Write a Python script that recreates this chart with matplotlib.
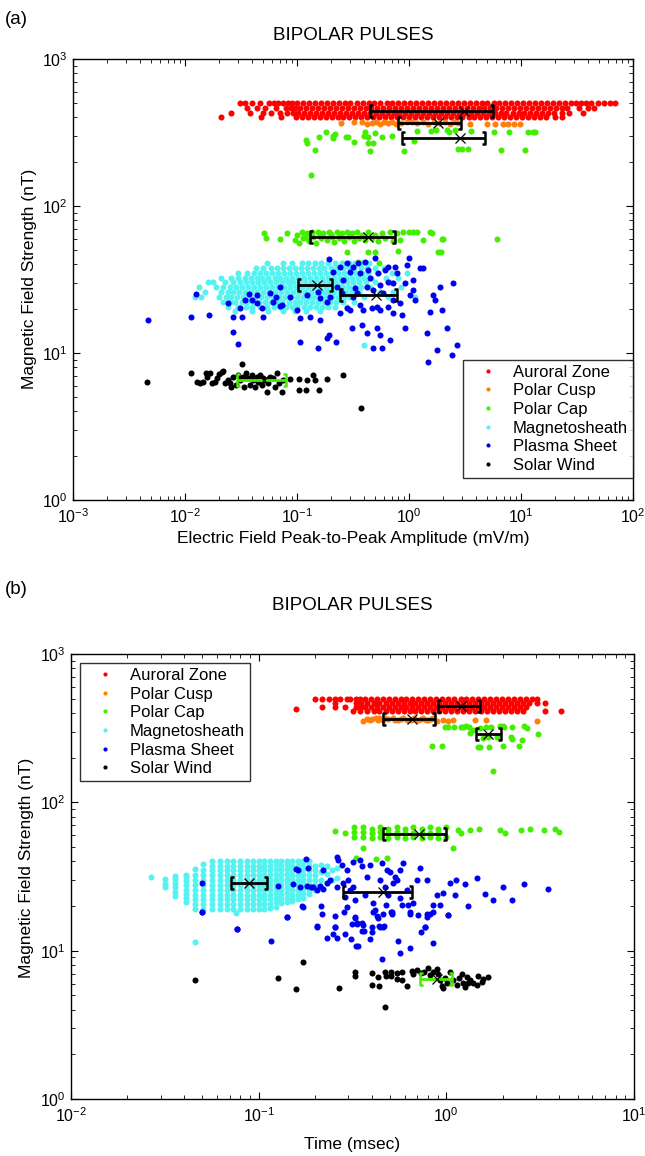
import matplotlib
matplotlib.use("Agg")
import matplotlib.pyplot as plt
from matplotlib.lines import Line2D
from matplotlib.path import Path

plt.rcParams['font.family'] = ['Liberation Sans', 'DejaVu Sans']
plt.rcParams['mathtext.fontset'] = 'custom'
plt.rcParams['mathtext.rm'] = 'Liberation Sans'
plt.rcParams['mathtext.it'] = 'Liberation Sans:italic'
plt.rcParams['mathtext.bf'] = 'Liberation Sans:bold'

groups = ['Auroral Zone', 'Polar Cusp', 'Polar Cap', 'Magnetosheath', 'Plasma Sheet', 'Solar Wind']
colors = ['#ff0000', '#ff7f0a', '#44ee00', '#55f2f2', '#0000f0', '#000000']

# ---------------- panel (a): E amplitude (mV/m) vs B (nT) ----------------
# dense auroral band, read as rows (B, list of E)
auroral_a = [
    (500, [0.031, 0.034, 0.040, 0.047, 0.056, 0.062, 0.068, 0.075, 0.083, 0.091,
           0.10, 0.113, 0.128, 0.145, 0.163, 0.185, 0.209, 0.236, 0.267, 0.30, 0.34, 0.385,
           0.435, 0.49, 0.555, 0.63, 0.71, 0.80, 0.905, 1.02, 1.16, 1.31, 1.48, 1.67, 1.89,
           2.13, 2.41, 2.72, 3.08, 3.48, 3.93, 4.44, 5.0, 5.7, 6.4, 7.2, 8.2, 9.3, 10.5,
           11.8, 13.4, 15.1, 17.1, 19.3, 21.8, 24.6, 28, 31, 34, 38, 42, 49, 55, 62, 69]),
    (465, [0.036, 0.044, 0.052, 0.065, 0.079, 0.088,
           0.095, 0.107, 0.121, 0.137, 0.154, 0.174, 0.197, 0.222, 0.251, 0.284, 0.32, 0.362,
           0.409, 0.462, 0.522, 0.59, 0.667, 0.754, 0.852, 0.963, 1.09, 1.23, 1.39, 1.57, 1.78,
           2.01, 2.27, 2.56, 2.9, 3.27, 3.7, 4.18, 4.72, 5.34, 6.03, 6.8, 7.7, 8.7, 9.8, 11.1,
           12.6, 14.2, 16.0, 18.1, 20.5, 23.2, 26, 33, 40, 45]),
    (432, [0.026, 0.038, 0.050, 0.058, 0.070, 0.082,
           0.092, 0.103, 0.116, 0.131, 0.148, 0.168, 0.19, 0.214, 0.242, 0.274, 0.309, 0.349,
           0.395, 0.446, 0.504, 0.57, 0.644, 0.728, 0.822, 0.929, 1.05, 1.19, 1.34, 1.52, 1.71,
           1.94, 2.19, 2.47, 2.8, 3.16, 3.57, 4.03, 4.56, 5.15, 5.82, 6.58, 7.4, 8.4, 9.5,
           10.7, 12.1, 13.7, 15.5, 17.5, 19.8, 23, 27, 36]),
    (405, [0.021, 0.048, 0.072,
           0.098, 0.111, 0.125, 0.141, 0.16, 0.18, 0.204, 0.23, 0.26, 0.294, 0.332, 0.376,
           0.424, 0.48, 0.542, 0.612, 0.692, 0.782, 0.884, 1.0, 1.13, 1.28, 1.44, 1.63, 1.84,
           2.08, 2.35, 2.66, 3.0, 3.4, 3.84, 4.34, 4.9, 5.54, 6.26, 7.1, 8.0, 9.0, 10.2, 11.5,
           13.0, 14.7, 16.6, 20, 23]),
]

cusp_a = [(0.249, 366), (0.326, 370), (0.38, 375), (0.426, 362), (0.47, 366), (0.51, 370),
          (0.55, 362), (0.60, 370), (0.65, 366), (0.70, 375), (0.76, 362), (0.85, 366),
          (0.95, 370), (1.06, 375), (1.19, 366), (1.33, 370), (1.49, 362), (1.67, 375),
          (1.87, 366), (2.09, 370), (2.34, 362), (2.53, 375), (2.73, 366), (3.5, 362),
          (5.0, 362), (5.9, 362), (6.9, 362), (7.7, 362), (8.7, 362), (9.8, 362)]

cap_a = [(0.121, 281), (0.123, 270), (0.146, 240), (0.158, 293), (0.181, 317), (0.211, 299),
         (0.218, 309), (0.211, 288), (0.274, 293), (0.286, 293), (0.321, 271), (0.401, 317),
         (0.397, 299), (0.433, 293), (0.433, 270), (0.478, 267), (0.453, 238), (0.497, 316),
         (0.569, 296), (0.70, 299), (0.90, 238), (1.11, 275), (1.19, 325), (1.56, 325),
         (1.75, 328), (2.2, 328), (2.28, 320), (2.56, 328), (2.76, 243), (2.98, 243),
         (3.35, 243), (3.56, 325), (5.7, 320), (6.66, 240), (7.87, 320), (10.9, 240),
         (11.5, 320), (12.7, 320), (13.4, 320), (0.132, 163),
         (0.0507, 65.1), (0.0528, 60.2), (0.0705, 59.3), (0.081, 65.1), (0.096, 58.7),
         (0.101, 63.4), (0.105, 55.7), (0.110, 66.8), (0.114, 60.2), (0.118, 62.0),
         (0.122, 65.1), (0.125, 60.0), (0.129, 58.1), (0.135, 66.8), (0.140, 61.8),
         (0.148, 56.4), (0.155, 66.8), (0.16, 63.0), (0.163, 60.2), (0.172, 65.1),
         (0.184, 58.7), (0.194, 66.8), (0.20, 64.0), (0.204, 61.8), (0.214, 57.2),
         (0.226, 66.8), (0.239, 60.2), (0.24, 62.5), (0.251, 65.1), (0.263, 58.1),
         (0.278, 66.8), (0.293, 61.8), (0.30, 63.5), (0.308, 65.1), (0.323, 58.1),
         (0.341, 66.8), (0.360, 60.2), (0.378, 63.4), (0.405, 58.7), (0.434, 66.8),
         (0.464, 60.2), (0.497, 63.4), (0.533, 58.1), (0.57, 65.1), (0.61, 60.2),
         (0.68, 66.8), (0.725, 58.1), (0.776, 65.1), (0.83, 58.7), (0.89, 66.8),
         (0.99, 66.8), (1.09, 66.8), (1.17, 66.8), (1.34, 58.7), (1.54, 66.8),
         (1.62, 65.8), (1.96, 59.3), (2.03, 59.3), (6.07, 59.3),
         (0.278, 48.9), (0.434, 48.9), (0.497, 48.9), (0.79, 49.7), (0.348, 41.8),
         (0.544, 41.2), (1.80, 48.9), (1.93, 48.9)]

# magnetosheath cloud, rows (B, list of E)
sheath_a = [
    (41.0, [0.054, 0.075, 0.09, 0.11, 0.125, 0.145, 0.165, 0.19, 0.22, 0.25, 0.29, 0.33, 0.38, 0.44]),
    (38.0, [0.043, 0.05, 0.058, 0.066, 0.075, 0.085, 0.096, 0.108, 0.122, 0.138, 0.156, 0.176,
            0.2, 0.226, 0.255, 0.29, 0.325, 0.37, 0.42, 0.5, 0.6]),
    (35.2, [0.03, 0.036, 0.041, 0.047, 0.053, 0.06, 0.068, 0.077, 0.087, 0.098, 0.111, 0.125,
            0.142, 0.16, 0.181, 0.205, 0.231, 0.261, 0.295, 0.334, 0.377, 0.43, 0.52, 0.7, 0.95]),
    (32.6, [0.021, 0.026, 0.03, 0.034, 0.0385, 0.0435, 0.049, 0.0555, 0.063, 0.071, 0.08, 0.091,
            0.103, 0.116, 0.131, 0.148, 0.167, 0.189, 0.214, 0.242, 0.273, 0.309, 0.35, 0.395,
            0.46, 0.62, 0.8]),
    (30.2, [0.016, 0.0179, 0.0228, 0.027, 0.031, 0.035, 0.0395, 0.0445, 0.0505, 0.057, 0.0645,
            0.073, 0.0825, 0.093, 0.105, 0.119, 0.134, 0.152, 0.172, 0.194, 0.219, 0.248, 0.28,
            0.316, 0.357, 0.41, 0.5, 0.68]),
    (28.0, [0.0134, 0.019, 0.022, 0.025, 0.0285, 0.032, 0.0365, 0.041, 0.047, 0.053, 0.06, 0.068,
            0.0765, 0.0865, 0.098, 0.11, 0.125, 0.141, 0.16, 0.18, 0.204, 0.23, 0.26, 0.294,
            0.33, 0.375, 0.45, 0.85]),
    (26.0, [0.015, 0.021, 0.024, 0.027, 0.0305, 0.0345, 0.039, 0.044, 0.05, 0.056, 0.064, 0.072,
            0.081, 0.092, 0.104, 0.117, 0.132, 0.15, 0.169, 0.191, 0.216, 0.244, 0.276, 0.31,
            0.36, 0.55, 0.725]),
    (24.1, [0.0123, 0.014, 0.02, 0.023, 0.026, 0.029, 0.033, 0.037, 0.042, 0.0475, 0.054, 0.061,
            0.069, 0.078, 0.088, 0.099, 0.112, 0.127, 0.143, 0.162, 0.183, 0.207, 0.234, 0.265,
            0.3, 0.4, 0.65, 1.13]),
    (22.3, [0.022, 0.025, 0.028, 0.032, 0.036, 0.0405, 0.046, 0.052, 0.058, 0.066, 0.074, 0.084,
            0.095, 0.107, 0.121, 0.137, 0.155, 0.175, 0.198, 0.224, 0.26, 0.32]),
    (20.6, [0.024, 0.03, 0.035, 0.04, 0.047, 0.054, 0.062, 0.07, 0.079, 0.09, 0.1, 0.115, 0.13,
            0.147, 0.166, 0.19, 0.22, 0.28]),
    (19.2, [0.028, 0.04, 0.055, 0.075, 0.095, 0.12, 0.16]),
    (11.3, [0.40]),
]

plasma_a = [(0.00471, 16.8), (0.0113, 17.7), (0.0164, 18.1), (0.0125, 25.2), (0.027, 14.0),
            (0.030, 11.6), (0.0244, 21.8), (0.027, 17.7), (0.032, 17.7), (0.0375, 25.2),
            (0.0394, 22.9), (0.0436, 24.8), (0.050, 17.5), (0.0615, 22.4), (0.065, 24.2),
            (0.0705, 20.9), (0.0866, 24.2), (0.106, 17.2), (0.106, 11.9), (0.131, 17.7),
            (0.155, 10.8), (0.16, 16.8), (0.184, 12.6), (0.194, 43.4), (0.194, 13.3),
            (0.223, 11.9), (0.242, 38.6), (0.259, 31.4), (0.278, 41.2), (0.308, 14.7),
            (0.318, 38.6), (0.33, 27.5), (0.366, 21.2), (0.378, 15.5), (0.419, 13.6),
            (0.434, 36.7), (0.481, 10.8), (0.514, 14.7), (0.551, 13.3), (0.57, 10.8),
            (0.514, 20.7), (0.59, 25.5), (0.653, 30.6), (0.653, 20.7), (0.676, 12.3),
            (0.725, 22.9), (0.75, 38.6), (0.83, 21.8), (0.86, 18.1), (0.92, 14.7),
            (0.95, 39.7), (0.99, 44.1), (1.09, 26.8), (1.13, 22.9), (1.25, 37.7),
            (1.34, 37.7), (1.44, 13.6), (1.49, 8.74), (1.54, 19.1), (1.65, 24.8),
            (1.71, 22.9), (1.77, 10.5), (1.89, 28.3), (1.96, 19.6), (2.17, 14.7),
            (2.40, 9.7), (2.49, 29.8), (2.67, 11.3),
            (0.318, 24.2), (0.391, 19.6), (0.297, 19.6), (0.278, 20.1), (0.464, 20.1),
            (0.419, 28.3), (0.226, 28.3), (0.251, 25.5), (0.341, 25.5), (0.481, 26.8),
            (0.551, 29.0), (0.725, 29.8), (0.211, 35.8), (0.297, 35.8), (0.366, 34.8),
            (0.449, 32.2), (0.532, 34.8), (0.61, 36.7), (0.653, 38.6), (0.353, 40.7),
            (0.405, 41.8), (0.497, 44.1), (0.242, 18.6), (0.16, 23.5), (0.155, 26.1),
            (0.122, 24.8), (0.101, 19.6), (0.073, 21.2), (0.0705, 28.3), (0.0574, 25.5),
            (0.0484, 20.1), (0.0436, 21.8), (0.0343, 22.9), (0.031, 20.1), (0.184, 22.4),
            (0.197, 24.2), (1.02, 24.8), (1.09, 31.4), (0.92, 29.8), (0.776, 34.8),
            (0.551, 19.6), (0.725, 18.6)]

solar_a = [(0.00455, 6.32), (0.0113, 7.27), (0.0127, 6.32), (0.0136, 6.28), (0.0146, 6.32),
           (0.0154, 7.27), (0.0156, 6.9), (0.0167, 7.27), (0.0173, 6.22), (0.0185, 6.38),
           (0.0192, 6.73), (0.0203, 7.2), (0.0213, 7.46), (0.022, 7.58), (0.0228, 6.22),
           (0.0244, 6.55), (0.0252, 6.28), (0.0256, 5.9), (0.027, 6.9), (0.0285, 6.06),
           (0.030, 7.09), (0.031, 6.55), (0.032, 8.41), (0.0327, 6.9), (0.0336, 5.9),
           (0.0351, 7.27), (0.0368, 6.73), (0.038, 6.06), (0.0394, 7.09), (0.0408, 6.55),
           (0.0422, 5.9), (0.0436, 6.9), (0.0452, 6.38), (0.0468, 7.09), (0.0484, 6.06),
           (0.050, 6.73), (0.0518, 6.55), (0.0536, 5.45), (0.0555, 6.22), (0.0574, 6.9),
           (0.0615, 6.73), (0.0637, 5.9), (0.0658, 7.27), (0.0695, 6.22), (0.073, 5.45),
           (0.0755, 6.55), (0.0866, 6.62), (0.105, 6.62), (0.105, 5.6), (0.120, 5.6),
           (0.122, 6.55), (0.14, 7.09), (0.145, 6.55), (0.158, 5.6), (0.184, 6.62),
           (0.259, 7.09), (0.372, 4.2)]

# mean and error bar (mean, B, low, high) per population
stats_a = [('Auroral Zone', 3.1, 443, 0.45, 5.6),
           ('Polar Cusp', 1.82, 367, 0.80, 2.9),
           ('Polar Cap', 2.83, 289, 0.86, 4.8),
           ('Polar Cap', 0.43, 61.2, 0.13, 0.75),
           ('Magnetosheath', 0.15, 29.0, 0.103, 0.204),
           ('Plasma Sheet', 0.51, 24.8, 0.242, 0.787),
           ('Solar Wind', 0.051, 6.55, 0.029, 0.080)]

# ---------------- panel (b): duration (msec) vs B (nT) ----------------
auroral_b = [
    (497, [0.20, 0.217, 0.237, 0.255, 0.271, 0.294, 0.306, 0.33, 0.347, 0.368, 0.395, 0.425,
           0.457, 0.492, 0.53, 0.57, 0.613, 0.66, 0.71, 0.764, 0.822, 0.885, 0.952, 1.02, 1.1,
           1.19, 1.28, 1.37, 1.48, 1.59, 1.71, 1.84, 1.98, 2.13, 2.29, 2.47, 2.65, 2.85, 3.03]),
    (466, [0.255, 0.33, 0.35, 0.38, 0.41, 0.44, 0.475, 0.511, 0.55, 0.592, 0.637, 0.685, 0.737,
           0.793, 0.853, 0.918, 0.988, 1.06, 1.14, 1.23, 1.32, 1.42, 1.53, 1.65, 1.77, 1.91,
           2.05, 2.21, 2.38, 2.56, 2.75, 3.03, 3.35]),
    (436, [0.217, 0.255, 0.29, 0.33, 0.35, 0.37, 0.395, 0.425, 0.457, 0.492, 0.53, 0.57, 0.613,
           0.66, 0.71, 0.764, 0.822, 0.885, 0.952, 1.02, 1.1, 1.19, 1.28, 1.37, 1.48, 1.59,
           1.71, 1.84, 1.98, 2.13, 2.29, 2.47, 2.65]),
    (425, [0.158]),
    (410, [0.318, 0.345, 0.38, 0.41, 0.44, 0.475, 0.511, 0.55, 0.592, 0.637, 0.685, 0.737,
           0.793, 0.853, 0.918, 0.988, 1.06, 1.14, 1.23, 1.32, 1.42, 1.53, 1.65, 1.77, 1.91,
           2.05, 2.21, 2.38, 2.56, 3.35, 4.1]),
]

cusp_b = [(0.361, 352), (0.38, 366), (0.39, 358), (0.40, 366), (0.42, 370), (0.43, 360),
          (0.44, 368), (0.46, 360), (0.47, 370), (0.49, 366), (0.52, 370), (0.53, 358),
          (0.55, 360), (0.57, 366), (0.59, 368), (0.62, 360), (0.65, 358), (0.67, 370),
          (0.71, 360), (0.73, 366), (0.75, 368), (0.78, 358), (0.80, 360), (0.83, 362),
          (0.85, 368), (0.89, 355), (0.96, 360), (1.02, 355), (1.08, 360), (1.42, 360),
          (1.62, 360), (3.03, 355)]

cap_b = [(0.983, 321), (1.02, 321), (1.10, 321), (1.19, 321), (1.23, 321), (1.28, 327),
         (1.32, 321), (1.38, 308), (1.34, 292), (1.51, 316), (1.63, 321), (1.72, 321),
         (1.57, 271), (1.67, 277), (1.87, 277), (1.93, 327), (2.01, 327), (2.03, 321),
         (2.23, 321), (2.59, 327), (2.70, 316), (2.20, 275), (2.23, 267), (2.52, 264),
         (3.09, 290), (2.45, 240), (2.01, 240), (1.69, 237), (1.51, 235), (1.48, 237),
         (0.835, 240), (0.944, 240), (1.78, 163),
         (0.255, 63.9), (0.288, 61.7), (0.322, 68.4), (0.322, 63.3), (0.322, 58.6),
         (0.361, 68.4), (0.361, 63.3), (0.361, 58.6), (0.361, 48.9), (0.40, 66.6),
         (0.40, 61.7), (0.40, 57.1), (0.443, 68.4), (0.443, 63.3), (0.443, 58.0),
         (0.49, 66.6), (0.49, 61.7), (0.49, 57.1), (0.543, 68.4), (0.543, 63.3),
         (0.543, 58.6), (0.602, 66.6), (0.602, 61.7), (0.602, 57.1), (0.667, 68.4),
         (0.667, 62.3), (0.667, 58.0), (0.738, 66.6), (0.738, 61.7), (0.738, 57.1),
         (0.818, 68.4), (0.818, 62.3), (0.818, 58.0), (0.906, 66.6), (0.906, 61.7),
         (0.906, 57.1), (1.0, 68.4), (1.0, 58.0), (1.09, 48.9), (0.33, 41.9), (0.42, 41.2),
         (0.48, 41.9), (1.15, 65), (1.2, 62), (1.34, 65), (1.5, 66), (1.93, 65), (2.05, 62),
         (2.5, 65), (2.8, 66), (3.3, 65), (3.8, 66), (4.0, 63)]

# magnetosheath durations come in sampled steps: columns (T, list of B)
sheath_b = [
    (0.0266, [31.5]),
    (0.0317, [26.7, 28.3, 30.2]),
    (0.0358, [23.5, 25.0, 26.8, 28.6, 30.4, 31.9]),
    (0.041, [21.2, 22.6, 24.2, 25.8, 27.6, 29.4, 31.4, 32.3]),
    (0.0458, [11.5, 19.1, 20.6, 22.2, 23.9, 25.8, 27.8, 30.0, 32.3, 35.4]),
    (0.0503, [19.1, 20.6, 22.2, 23.9, 25.8, 27.8, 30.0, 32.3, 34.8, 38.3]),
    (0.0561, [19.1, 20.6, 22.2, 23.9, 25.8, 27.8, 30.0, 32.3, 34.8, 37.5, 40.3]),
    (0.0622, [19.1, 20.6, 22.2, 23.9, 25.8, 27.8, 30.0, 32.3, 34.8, 37.5, 40.3]),
    (0.0675, [19.1, 20.6, 22.2, 23.9, 25.8, 27.8, 30.0, 32.3, 34.8, 37.5, 40.3]),
    (0.073, [19.1, 20.6, 22.2, 23.9, 25.8, 27.8, 30.0, 32.3, 34.8, 37.5, 40.3]),
    (0.076, [17.9]),
    (0.0795, [19.1, 20.6, 22.2, 23.9, 25.8, 27.8, 30.0, 32.3, 34.8, 37.5, 40.3]),
    (0.0863, [19.1, 20.6, 22.2, 23.9, 25.8, 27.8, 30.0, 32.3, 34.8, 37.5, 40.3]),
    (0.093, [19.1, 20.6, 22.2, 23.9, 25.8, 27.8, 30.0, 32.3, 34.8, 37.5, 40.3]),
    (0.100, [19.1, 20.6, 22.2, 23.9, 25.8, 27.8, 30.0, 32.3, 34.8, 37.5, 40.3]),
    (0.107, [19.1, 20.6, 22.2, 23.9, 25.8, 27.8, 30.0, 32.3, 34.8, 37.5, 40.3]),
    (0.115, [19.5, 20.6, 22.2, 23.9, 25.8, 27.8, 30.0, 32.3, 34.8, 37.5, 40.3]),
    (0.123, [19.8, 21.2, 22.8, 24.5, 26.4, 28.4, 30.6, 33.0, 35.5, 38.2, 40.3]),
    (0.132, [21.0, 22.2, 23.9, 25.8, 27.8, 30.0, 32.3, 34.8, 37.5, 40.3]),
    (0.141, [21.2, 22.8, 24.5, 26.4, 28.4, 30.6, 33.0, 35.5, 38.2, 40.5]),
    (0.151, [21.5, 22.2, 23.9, 25.8, 27.8, 30.0, 32.3, 34.8, 37.5, 40.3]),
    (0.162, [22.2, 23.9, 25.8, 27.8, 30.0, 32.3, 34.8, 37.5, 40.3]),
    (0.173, [22.8, 24.5, 26.4, 28.4, 30.6, 33.0, 35.5, 38.2, 40.0]),
    (0.185, [24.0, 25.8, 27.8, 30.0, 32.3, 34.8, 37.5, 40.0]),
    (0.200, [25.8, 27.8, 30.0, 32.3, 34.8, 37.5]),
    (0.215, [27.0, 30.0, 34.0, 38.0]),
    (0.230, [28.5, 33.0, 37.0]),
    (0.245, [30.0, 35.0]),
    (0.260, [31.0, 36.0]),
]

plasma_b = [(0.0497, 28.4), (0.0497, 18.3), (0.0764, 13.9), (0.127, 27.3), (0.141, 16.9),
            (0.153, 28.1), (0.159, 35.3), (0.163, 35.0), (0.173, 19.8), (0.179, 41.7),
            (0.184, 35.9), (0.191, 27.0), (0.204, 25.6), (0.204, 14.5), (0.221, 35.0),
            (0.23, 28.4), (0.24, 29.9), (0.255, 14.5), (0.26, 43.0), (0.265, 40.8),
            (0.277, 37.8), (0.288, 23.1), (0.294, 35.0), (0.30, 29.9), (0.307, 25.6),
            (0.319, 39.8), (0.326, 21.9), (0.326, 16.9), (0.333, 15.1), (0.347, 40.8),
            (0.354, 37.2), (0.354, 15.3), (0.368, 23.7), (0.376, 31.5), (0.392, 37.8),
            (0.40, 14.5), (0.408, 20.8), (0.417, 18.8), (0.434, 16.5), (0.443, 29.9),
            (0.443, 14.5), (0.452, 38.8), (0.461, 14.5), (0.481, 35.0), (0.491, 23.7),
            (0.511, 18.3), (0.521, 28.4), (0.543, 29.9), (0.566, 22.5), (0.566, 35.0),
            (0.578, 20.3), (0.59, 38.8), (0.614, 25.6), (0.627, 20.3), (0.64, 18.3),
            (0.667, 20.8), (0.695, 29.9), (0.709, 17.4), (0.723, 35.9), (0.769, 14.5),
            (0.785, 29.9), (0.785, 16.9), (0.818, 17.8), (0.852, 20.3), (0.888, 23.7),
            (0.924, 20.3), (0.963, 24.3), (1.02, 17.4), (1.04, 28.4), (1.11, 23.7),
            (1.13, 29.9), (0.166, 27.0), (0.18, 27.3), (0.195, 26.7), (0.212, 27.3),
            (0.221, 26.2), (0.26, 27.0), (0.282, 28.4), (0.319, 27.0), (0.50, 34.0),
            (0.532, 31.5), (0.471, 27.0),
            (0.0497, 18.1), (0.0763, 13.9), (0.117, 11.6), (0.141, 16.9), (0.171, 20.0),
            (0.204, 14.6), (0.214, 20.0), (0.218, 17.8), (0.23, 12.2), (0.25, 12.9),
            (0.255, 17.1), (0.255, 14.4), (0.26, 12.2), (0.286, 18.3), (0.288, 12.9),
            (0.294, 19.8), (0.313, 15.1), (0.31, 11.9), (0.326, 16.5), (0.329, 10.7),
            (0.337, 10.7), (0.336, 15.4), (0.361, 14.9), (0.355, 13.6), (0.365, 13.6),
            (0.392, 12.0), (0.40, 13.3), (0.405, 18.3), (0.425, 17.1), (0.436, 14.6),
            (0.454, 8.73), (0.461, 17.8), (0.467, 14.6), (0.477, 20.3), (0.505, 18.3),
            (0.511, 17.6), (0.55, 11.6), (0.566, 9.7), (0.64, 10.5), (0.64, 17.6),
            (0.73, 13.4), (0.773, 14.4), (0.792, 17.6), (0.846, 11.3), (0.852, 18.3),
            (1.02, 17.4), (1.25, 28), (1.3, 20), (1.45, 31), (1.6, 24), (1.78, 21.9),
            (2.0, 27), (2.23, 21.9), (2.6, 28), (3.5, 26)]

solar_b = [(0.0458, 6.34), (0.127, 6.5), (0.158, 5.48), (0.1715, 8.42), (0.268, 5.62),
           (0.326, 7.21), (0.326, 6.74), (0.40, 7.1), (0.40, 5.86), (0.434, 6.6),
           (0.436, 5.77), (0.471, 7.21), (0.475, 6.74), (0.505, 7.21), (0.507, 6.74),
           (0.543, 7.1), (0.548, 6.4), (0.578, 7.21), (0.582, 6.34), (0.614, 5.77),
           (0.653, 7.32), (0.667, 6.95), (0.694, 7.4), (0.73, 7.1), (0.76, 7.21),
           (0.801, 7.59), (0.818, 6.85), (0.852, 7.21), (0.888, 7.48), (0.906, 6.95),
           (0.925, 6.34), (0.944, 5.77), (0.963, 5.57), (0.983, 6.5), (1.003, 6.08),
           (1.045, 7.21), (1.089, 6.34), (1.134, 5.86), (1.172, 6.5), (1.206, 6.95),
           (1.231, 6.08), (1.257, 5.65), (1.283, 6.67), (1.309, 6.08), (1.336, 6.34),
           (1.392, 6.02), (1.45, 5.86), (1.48, 6.74), (1.542, 6.17), (1.573, 6.4),
           (1.673, 6.67), (0.473, 4.19)]

stats_b = [('Auroral Zone', 1.19, 446, 0.90, 1.51),
           ('Polar Cusp', 0.66, 362, 0.46, 0.87),
           ('Polar Cap', 1.67, 288, 1.44, 1.95),
           ('Polar Cap', 0.718, 61.1, 0.461, 0.996),
           ('Magnetosheath', 0.089, 28.7, 0.071, 0.111),
           ('Plasma Sheet', 0.457, 25.0, 0.28, 0.653),
           ('Solar Wind', 0.89, 6.4, 0.72, 1.07)]


def from_rows(rows):
    xs, ys = [], []
    for b, vals in rows:
        xs += vals
        ys += [b] * len(vals)
    return xs, ys


def from_cols(cols):
    xs, ys = [], []
    for t, vals in cols:
        xs += [t] * len(vals)
        ys += vals
    return xs, ys


def from_pairs(pairs):
    return [p[0] for p in pairs], [p[1] for p in pairs]


data_a = [from_rows(auroral_a), from_pairs(cusp_a), from_pairs(cap_a),
          from_rows(sheath_a), from_pairs(plasma_a), from_pairs(solar_a)]
data_b = [from_rows(auroral_b), from_pairs(cusp_b), from_pairs(cap_b),
          from_cols(sheath_b), from_pairs(plasma_b), from_pairs(solar_b)]

left_cap = Path([(0.5, 1), (0, 1), (0, -1), (0.5, -1)])
right_cap = Path([(-0.5, 1), (0, 1), (0, -1), (-0.5, -1)])


def draw_panel(ax, data, stats, xlim):
    for (xs, ys), col in zip(data, colors):
        ax.scatter(xs, ys, s=19, color=col, linewidths=0)
    for name, m, b, lo, hi in stats:
        c = colors[2] if name == 'Solar Wind' else 'k'
        ax.plot([lo, hi], [b, b], color=c, lw=2.0, solid_capstyle='butt')
        ax.plot([lo], [b], marker=left_cap, ms=9, mew=1.8, mfc='none', mec=c)
        ax.plot([hi], [b], marker=right_cap, ms=9, mew=1.8, mfc='none', mec=c)
        ax.plot([m], [b], marker='x', ms=7, mew=0.9, color='k')
    ax.set_xscale('log')
    ax.set_yscale('log')
    ax.set_xlim(*xlim)
    ax.set_ylim(1, 1000)
    ax.tick_params(which='both', direction='in', top=True, right=True, labelsize=11.5)
    ax.tick_params(axis='x', pad=5)
    ax.tick_params(axis='y', pad=4)
    ax.tick_params(which='major', length=5, width=0.8)
    ax.tick_params(which='minor', length=3, width=0.6)
    for sp in ax.spines.values():
        sp.set_linewidth(1.0)


def add_legend(ax, **kw):
    handles = [Line2D([], [], ls='none', marker='o', ms=3, mew=0, color=c) for c in colors]
    leg = ax.legend(handles, groups, fontsize=12, frameon=True, fancybox=False,
                    borderpad=0.3, handlelength=2.4, handletextpad=0.3, labelspacing=0.22,
                    borderaxespad=0, **kw)
    leg.get_frame().set_edgecolor('k')
    leg.get_frame().set_linewidth(1.0)


fig = plt.figure(figsize=(6.45, 11.56), dpi=100)
W, H = 645.0, 1156.0
ax_a = fig.add_axes([73 / W, 1 - 500 / H, 560 / W, 441 / H])
ax_b = fig.add_axes([71 / W, 1 - 1099 / H, 563 / W, 445 / H])

draw_panel(ax_a, data_a, stats_a, (1e-3, 1e2))
draw_panel(ax_b, data_b, stats_b, (1e-2, 1e1))
add_legend(ax_a, loc='lower right', bbox_to_anchor=(1.0, 0.05))
add_legend(ax_b, loc='upper left', bbox_to_anchor=(0.016, 0.98))

fig.text(5 / W, 1 - 20 / H, '(a)', fontsize=13.5, va='center', ha='left')
fig.text(353 / W, 1 - 35 / H, 'BIPOLAR PULSES', fontsize=13.5, va='center', ha='center')
fig.text(353 / W, 1 - 538 / H, 'Electric Field Peak-to-Peak Amplitude (mV/m)', fontsize=12.5,
         va='center', ha='center')
fig.text(30 / W, 1 - 279 / H, 'Magnetic Field Strength (nT)', fontsize=12.5, rotation=90,
         va='center', ha='center')

fig.text(5 / W, 1 - 590 / H, '(b)', fontsize=13.5, va='center', ha='left')
fig.text(352 / W, 1 - 605 / H, 'BIPOLAR PULSES', fontsize=13.5, va='center', ha='center')
fig.text(352 / W, 1 - 1144 / H, 'Time (msec)', fontsize=12.5, va='center', ha='center')
fig.text(27 / W, 1 - 868 / H, 'Magnetic Field Strength (nT)', fontsize=12.5, rotation=90,
         va='center', ha='center')

fig.savefig('out.png', dpi=100)
